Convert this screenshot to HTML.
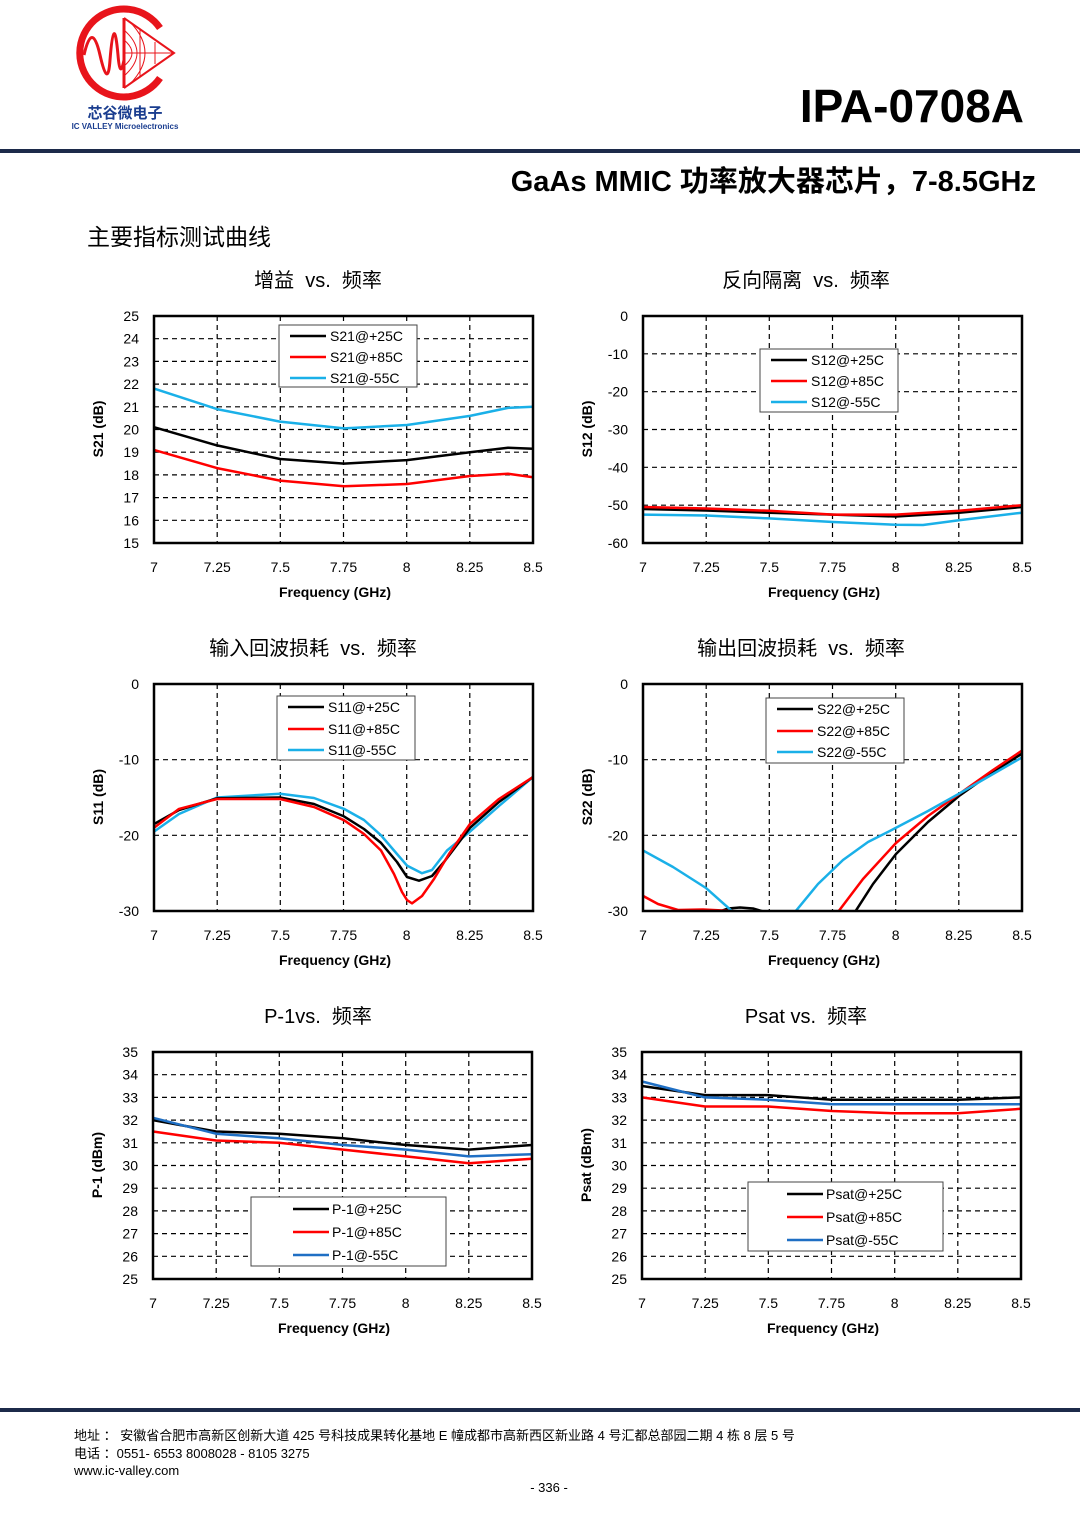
<!DOCTYPE html>
<html><head><meta charset="utf-8"><style>
html,body{margin:0;padding:0;background:#fff;}
body{width:1080px;height:1527px;position:relative;overflow:hidden;font-family:"Liberation Sans","Noto Sans CJK SC",sans-serif;}
svg text{font-family:"Liberation Sans","Noto Sans CJK SC",sans-serif;}
</style></head><body>
<svg width="1080" height="1527" viewBox="0 0 1080 1527" xmlns="http://www.w3.org/2000/svg">
<defs>
<g id="vg" stroke="#000" stroke-width="1.2" stroke-dasharray="5,4">
<line x1="63.2" y1="0" x2="63.2" y2="227"/><line x1="126.3" y1="0" x2="126.3" y2="227"/><line x1="189.5" y1="0" x2="189.5" y2="227"/><line x1="252.7" y1="0" x2="252.7" y2="227"/><line x1="315.8" y1="0" x2="315.8" y2="227"/>
</g>
<g id="hg10" stroke="#000" stroke-width="1.2" stroke-dasharray="5,4">
<line x1="0" y1="22.7" x2="379" y2="22.7"/><line x1="0" y1="45.4" x2="379" y2="45.4"/><line x1="0" y1="68.1" x2="379" y2="68.1"/><line x1="0" y1="90.8" x2="379" y2="90.8"/><line x1="0" y1="113.5" x2="379" y2="113.5"/><line x1="0" y1="136.2" x2="379" y2="136.2"/><line x1="0" y1="158.9" x2="379" y2="158.9"/><line x1="0" y1="181.6" x2="379" y2="181.6"/><line x1="0" y1="204.3" x2="379" y2="204.3"/>
</g>
<g id="hg6" stroke="#000" stroke-width="1.2" stroke-dasharray="5,4">
<line x1="0" y1="37.8" x2="379" y2="37.8"/><line x1="0" y1="75.7" x2="379" y2="75.7"/><line x1="0" y1="113.5" x2="379" y2="113.5"/><line x1="0" y1="151.3" x2="379" y2="151.3"/><line x1="0" y1="189.2" x2="379" y2="189.2"/>
</g>
<g id="hg3" stroke="#000" stroke-width="1.2" stroke-dasharray="5,4">
<line x1="0" y1="75.7" x2="379" y2="75.7"/><line x1="0" y1="151.3" x2="379" y2="151.3"/>
</g>
<g id="xt" font-size="14" text-anchor="middle" fill="#000">
<text x="0" y="256">7</text><text x="63.2" y="256">7.25</text><text x="126.3" y="256">7.5</text><text x="189.5" y="256">7.75</text><text x="252.7" y="256">8</text><text x="315.8" y="256">8.25</text><text x="379" y="256">8.5</text>
<text x="181" y="281" font-weight="bold">Frequency (GHz)</text>
</g>
<clipPath id="pc"><rect x="0" y="0" width="379" height="227"/></clipPath>
</defs>

<!-- Logo -->
<g fill="none" stroke="#e8141b">
<path d="M160 28 A44 44 0 1 0 160 78" stroke-width="7"/>
<line x1="124" y1="18" x2="124" y2="88" stroke-width="3"/>
<path d="M124 18 L174 53 L124 88" stroke-width="2"/>
<path d="M124 30 Q150 53 124 76 M124 40 Q140 53 124 66 M130 22 Q160 53 130 84 M124 53 L174 53 M140 30 L140 76 M155 42 L155 64" stroke-width="1"/>
<path d="M84 55 Q92 20 100 55 T110 60 Q114 10 118 55 Q120 80 124 60" stroke-width="3"/>
</g>
<text x="125" y="118" font-size="15" fill="#1a3d8f" text-anchor="middle" font-weight="bold">芯谷微电子</text>
<text x="125" y="129" font-size="8" fill="#1a3d8f" text-anchor="middle" font-weight="bold">IC VALLEY Microelectronics</text>

<text x="1024" y="122" font-size="46" font-weight="bold" text-anchor="end" fill="#000">IPA-0708A</text>
<rect x="0" y="149" width="1080" height="4" fill="#1c2a4a"/>
<text x="1036" y="191" font-size="29" font-weight="bold" text-anchor="end" fill="#000">GaAs MMIC 功率放大器芯片，7-8.5GHz</text>
<text x="87" y="245" font-size="23" fill="#000">主要指标测试曲线</text>

<!-- Chart titles -->
<g font-size="20" text-anchor="middle" fill="#000">
<text x="318" y="287">增益&#160;&#160;vs.&#160;&#160;频率</text>
<text x="806" y="287">反向隔离&#160;&#160;vs.&#160;&#160;频率</text>
<text x="313" y="655">输入回波损耗&#160;&#160;vs.&#160;&#160;频率</text>
<text x="801" y="655">输出回波损耗&#160;&#160;vs.&#160;&#160;频率</text>
<text x="318" y="1023">P-1vs.&#160;&#160;频率</text>
<text x="806" y="1023">Psat vs.&#160;&#160;频率</text>
</g>

<!-- Chart 1 S21 -->
<g transform="translate(154,316)">
<use href="#vg"/><use href="#hg10"/>
<g font-size="14" text-anchor="end">
<text x="-15" y="5">25</text><text x="-15" y="27.7">24</text><text x="-15" y="50.4">23</text><text x="-15" y="73.1">22</text><text x="-15" y="95.8">21</text><text x="-15" y="118.5">20</text><text x="-15" y="141.2">19</text><text x="-15" y="163.9">18</text><text x="-15" y="186.6">17</text><text x="-15" y="209.3">16</text><text x="-15" y="232">15</text>
</g>
<text transform="translate(-51,113) rotate(-90)" font-size="14" font-weight="bold" text-anchor="middle">S21 (dB)</text>
<use href="#xt"/>
<g fill="none" stroke-width="2.5" stroke-linejoin="round">
<polyline stroke="#1ab0e8" points="0,72.6 63,93.1 126,105.6 190,112.4 253,109 316,99.9 354,91.9 379,90.8"/>
<polyline stroke="#000" points="0,111.2 63,129.4 126,143 190,147.6 253,144.1 316,136.2 354,131.7 379,132.8"/>
<polyline stroke="#f00" points="0,133.9 63,152.1 126,164.6 190,170.3 253,168 316,160 354,157.8 379,161.2"/>
</g>
<rect x="0" y="0" width="379" height="227" fill="none" stroke="#000" stroke-width="2.5"/>
<rect x="125" y="9" width="138" height="62" fill="#fff" stroke="#444" stroke-width="1"/>
<g stroke-width="2.5"><line x1="136" y1="20" x2="172" y2="20" stroke="#000"/><line x1="136" y1="41" x2="172" y2="41" stroke="#f00"/><line x1="136" y1="62" x2="172" y2="62" stroke="#1ab0e8"/></g>
<g font-size="14"><text x="176" y="25">S21@+25C</text><text x="176" y="46">S21@+85C</text><text x="176" y="67">S21@-55C</text></g>
</g>

<!-- Chart 2 S12 -->
<g transform="translate(643,316)">
<use href="#vg"/><use href="#hg6"/>
<g font-size="14" text-anchor="end">
<text x="-15" y="5">0</text><text x="-15" y="42.8">-10</text><text x="-15" y="80.7">-20</text><text x="-15" y="118.5">-30</text><text x="-15" y="156.3">-40</text><text x="-15" y="194.2">-50</text><text x="-15" y="232">-60</text>
</g>
<text transform="translate(-51,113) rotate(-90)" font-size="14" font-weight="bold" text-anchor="middle">S12 (dB)</text>
<use href="#xt"/>
<g fill="none" stroke-width="2.5" stroke-linejoin="round">
<polyline stroke="#1ab0e8" points="0,198.6 63,199.5 126,202.4 190,206 253,208.8 280,209 316,204.3 379,196.7"/>
<polyline stroke="#000" points="0,193 63,194.5 126,196.7 190,198.6 253,200.5 316,196.7 379,191"/>
<polyline stroke="#f00" points="0,191 63,192.5 126,194.8 190,198.6 253,198.6 316,194.8 379,189.2"/>
</g>
<rect x="0" y="0" width="379" height="227" fill="none" stroke="#000" stroke-width="2.5"/>
<rect x="117" y="33" width="138" height="63" fill="#fff" stroke="#444" stroke-width="1"/>
<g stroke-width="2.5"><line x1="128" y1="44" x2="164" y2="44" stroke="#000"/><line x1="128" y1="65" x2="164" y2="65" stroke="#f00"/><line x1="128" y1="86" x2="164" y2="86" stroke="#1ab0e8"/></g>
<g font-size="14"><text x="168" y="49">S12@+25C</text><text x="168" y="70">S12@+85C</text><text x="168" y="91">S12@-55C</text></g>
</g>

<!-- Chart 3 S11 -->
<g transform="translate(154,684)">
<use href="#vg"/><use href="#hg3"/>
<g font-size="14" text-anchor="end">
<text x="-15" y="5">0</text><text x="-15" y="80.7">-10</text><text x="-15" y="156.3">-20</text><text x="-15" y="232">-30</text>
</g>
<text transform="translate(-51,113) rotate(-90)" font-size="14" font-weight="bold" text-anchor="middle">S11 (dB)</text>
<use href="#xt"/>
<g fill="none" stroke-width="2.5" stroke-linejoin="round" clip-path="url(#pc)">
<polyline stroke="#1ab0e8" points="0,147.6 25,130 63,113.5 126,109.7 160,114 190,124.9 210,136 227,151.3 243,170 253,181.6 268,189.2 278,186 293,166.5 316,147.6 345,122 379,93"/>
<polyline stroke="#000" points="0,140 25,126 63,114.3 126,113.5 160,120 190,132.4 210,145 227,158.9 243,178 253,193 265,196.7 278,192 290,178 316,143.8 345,118 379,93"/>
<polyline stroke="#f00" points="0,143.8 25,124.9 63,115 126,115 160,123 190,136.2 210,150 227,166.5 240,190 248,208 253,216 258,219.4 268,212 280,195 295,170 316,140 345,115 379,93"/>
</g>
<rect x="0" y="0" width="379" height="227" fill="none" stroke="#000" stroke-width="2.5"/>
<rect x="123" y="12" width="138" height="64" fill="#fff" stroke="#444" stroke-width="1"/>
<g stroke-width="2.5"><line x1="134" y1="23" x2="170" y2="23" stroke="#000"/><line x1="134" y1="45" x2="170" y2="45" stroke="#f00"/><line x1="134" y1="66" x2="170" y2="66" stroke="#1ab0e8"/></g>
<g font-size="14"><text x="174" y="28">S11@+25C</text><text x="174" y="50">S11@+85C</text><text x="174" y="71">S11@-55C</text></g>
</g>

<!-- Chart 4 S22 -->
<g transform="translate(643,684)">
<use href="#vg"/><use href="#hg3"/>
<g font-size="14" text-anchor="end">
<text x="-15" y="5">0</text><text x="-15" y="80.7">-10</text><text x="-15" y="156.3">-20</text><text x="-15" y="232">-30</text>
</g>
<text transform="translate(-51,113) rotate(-90)" font-size="14" font-weight="bold" text-anchor="middle">S22 (dB)</text>
<use href="#xt"/>
<g fill="none" stroke-width="2.5" stroke-linejoin="round" clip-path="url(#pc)">
<polyline stroke="#000" points="75,228 85,224.5 97,223.5 110,224.5 122,228"/>
<polyline stroke="#f00" points="0,211.9 15,220 35,226 60,225.5 90,227 95,229"/>
<polyline stroke="#1ab0e8" points="0,166.5 30,183 63,204 90,228"/>
<polyline stroke="#000" points="212,228 230,200 253,170 285,138 316,112 350,88 379,69.6"/>
<polyline stroke="#f00" points="195,228 220,195 253,159 285,132 316,110 350,86 379,66.6"/>
<polyline stroke="#1ab0e8" points="152,228 175,200 200,176 225,158 253,143.8 285,127 316,109.7 350,90 379,73.4"/>
</g>
<rect x="0" y="0" width="379" height="227" fill="none" stroke="#000" stroke-width="2.5"/>
<rect x="123" y="14" width="138" height="65" fill="#fff" stroke="#444" stroke-width="1"/>
<g stroke-width="2.5"><line x1="134" y1="25" x2="170" y2="25" stroke="#000"/><line x1="134" y1="47" x2="170" y2="47" stroke="#f00"/><line x1="134" y1="68" x2="170" y2="68" stroke="#1ab0e8"/></g>
<g font-size="14"><text x="174" y="30">S22@+25C</text><text x="174" y="52">S22@+85C</text><text x="174" y="73">S22@-55C</text></g>
</g>

<!-- Chart 5 P-1 -->
<g transform="translate(153,1052)">
<use href="#vg"/><use href="#hg10"/>
<g font-size="14" text-anchor="end">
<text x="-15" y="5">35</text><text x="-15" y="27.7">34</text><text x="-15" y="50.4">33</text><text x="-15" y="73.1">32</text><text x="-15" y="95.8">31</text><text x="-15" y="118.5">30</text><text x="-15" y="141.2">29</text><text x="-15" y="163.9">28</text><text x="-15" y="186.6">27</text><text x="-15" y="209.3">26</text><text x="-15" y="232">25</text>
</g>
<text transform="translate(-51,113) rotate(-90)" font-size="14" font-weight="bold" text-anchor="middle">P-1 (dBm)</text>
<use href="#xt"/>
<g fill="none" stroke-width="2.5" stroke-linejoin="round">
<polyline stroke="#000" points="0,68.1 63,79.5 126,81.7 190,86.3 253,93 316,97.6 379,93"/>
<polyline stroke="#f00" points="0,79.5 63,88.5 126,90.8 190,97.6 253,104.4 316,111.2 379,106.7"/>
<polyline stroke="#1f6fc4" points="0,65.8 63,81.7 126,86.3 190,93 253,97.6 316,104.4 379,102.2"/>
</g>
<rect x="0" y="0" width="379" height="227" fill="none" stroke="#000" stroke-width="2.5"/>
<rect x="98" y="145" width="195" height="69" fill="#fff" stroke="#444" stroke-width="1"/>
<g stroke-width="2.5"><line x1="140" y1="157" x2="176" y2="157" stroke="#000"/><line x1="140" y1="180" x2="176" y2="180" stroke="#f00"/><line x1="140" y1="203" x2="176" y2="203" stroke="#1f6fc4"/></g>
<g font-size="14"><text x="179" y="162">P-1@+25C</text><text x="179" y="185">P-1@+85C</text><text x="179" y="208">P-1@-55C</text></g>
</g>

<!-- Chart 6 Psat -->
<g transform="translate(642,1052)">
<use href="#vg"/><use href="#hg10"/>
<g font-size="14" text-anchor="end">
<text x="-15" y="5">35</text><text x="-15" y="27.7">34</text><text x="-15" y="50.4">33</text><text x="-15" y="73.1">32</text><text x="-15" y="95.8">31</text><text x="-15" y="118.5">30</text><text x="-15" y="141.2">29</text><text x="-15" y="163.9">28</text><text x="-15" y="186.6">27</text><text x="-15" y="209.3">26</text><text x="-15" y="232">25</text>
</g>
<text transform="translate(-51,113) rotate(-90)" font-size="14" font-weight="bold" text-anchor="middle">Psat (dBm)</text>
<use href="#xt"/>
<g fill="none" stroke-width="2.5" stroke-linejoin="round">
<polyline stroke="#000" points="0,34 63,43.1 126,43.1 190,47.7 253,47.7 316,47.7 379,45.4"/>
<polyline stroke="#f00" points="0,45.4 63,54.5 126,54.5 190,59 253,61.3 316,61.3 379,56.8"/>
<polyline stroke="#1f6fc4" points="0,29.5 63,45.4 126,47.7 190,52.2 253,52.2 316,52.2 379,52.2"/>
</g>
<rect x="0" y="0" width="379" height="227" fill="none" stroke="#000" stroke-width="2.5"/>
<rect x="106" y="130" width="195" height="69" fill="#fff" stroke="#444" stroke-width="1"/>
<g stroke-width="2.5"><line x1="145" y1="142" x2="181" y2="142" stroke="#000"/><line x1="145" y1="165" x2="181" y2="165" stroke="#f00"/><line x1="145" y1="188" x2="181" y2="188" stroke="#1f6fc4"/></g>
<g font-size="14"><text x="184" y="147">Psat@+25C</text><text x="184" y="170">Psat@+85C</text><text x="184" y="193">Psat@-55C</text></g>
</g>

<!-- Footer -->
<rect x="0" y="1408" width="1080" height="4" fill="#1c2a4a"/>
<g font-size="13" fill="#000">
<text x="74" y="1440">地址 ： 安徽省合肥市高新区创新大道 425 号科技成果转化基地 E 幢成都市高新西区新业路 4 号汇都总部园二期 4 栋 8 层 5 号</text>
<text x="74" y="1458">电话 ：0551- 6553 8008028 - 8105 3275</text>
<text x="74" y="1475">www.ic-valley.com</text>
<text x="549" y="1492" text-anchor="middle">- 336 -</text>
</g>
</svg>
</body></html>
